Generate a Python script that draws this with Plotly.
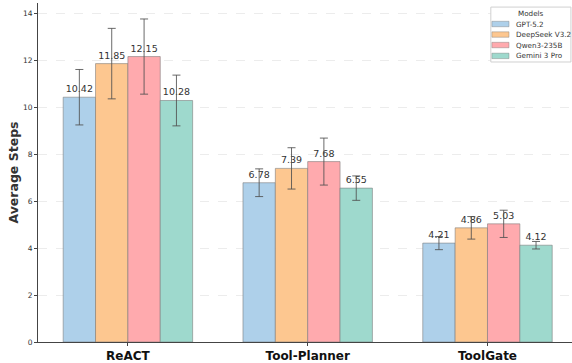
import plotly.graph_objects as go

methods = ["ReACT", "Tool-Planner", "ToolGate"]
models = ["GPT-5.2", "DeepSeek V3.2", "Qwen3-235B", "Gemini 3 Pro"]
values = {
    "GPT-5.2": [10.42, 6.78, 4.21],
    "DeepSeek V3.2": [11.85, 7.39, 4.86],
    "Qwen3-235B": [12.15, 7.68, 5.03],
    "Gemini 3 Pro": [10.28, 6.55, 4.12],
}
errors = {
    "GPT-5.2": [1.18, 0.59, 0.28],
    "DeepSeek V3.2": [1.50, 0.88, 0.48],
    "Qwen3-235B": [1.60, 1.00, 0.58],
    "Gemini 3 Pro": [1.08, 0.52, 0.16],
}
colors = ["rgb(174,208,234)", "rgb(253,199,144)", "rgb(255,170,174)", "rgb(158,217,205)"]

fig = go.Figure()
for m, c in zip(models, colors):
    fig.add_trace(go.Bar(
        name=m, x=methods, y=values[m],
        marker=dict(color=c, line=dict(color="rgba(120,120,120,0.7)", width=0.8)),
        error_y=dict(type="data", array=errors[m], color="rgba(80,80,80,0.85)", thickness=1, width=4),
        text=[f"{v:.2f}" for v in values[m]], textposition="outside",
        textfont=dict(size=9.5, color="#333", family="DejaVu Sans"),
        cliponaxis=False, showlegend=False,
    ))

# legend drawn as a small boxed key (paper coordinates)
lx0, lx1, ly0, ly1 = 0.848, 0.998, 0.826, 0.988
fig.add_shape(type="rect", xref="paper", yref="paper", x0=lx0, x1=lx1, y0=ly0, y1=ly1,
              line=dict(color="#d0d0d0", width=1), fillcolor="white", layer="above")
fig.add_annotation(xref="paper", yref="paper", x=(lx0 + lx1) / 2, y=0.970, text="Models",
                   showarrow=False, font=dict(size=7.2, color="#333"), xanchor="center", yanchor="middle")
row_y = [0.938, 0.907, 0.876, 0.844]
for m, c, yy in zip(models, colors, row_y):
    fig.add_shape(type="rect", xref="paper", yref="paper", x0=0.850, x1=0.882,
                  y0=yy - 0.008, y1=yy + 0.008, fillcolor=c,
                  line=dict(color="rgba(120,120,120,0.7)", width=0.6), layer="above")
    fig.add_annotation(xref="paper", yref="paper", x=0.891, y=yy, text=m, showarrow=False,
                       font=dict(size=7.2, color="#333"), xanchor="left", yanchor="middle")

fig.update_layout(
    width=572, height=363,
    margin=dict(l=38, r=0, t=3, b=21),
    barmode="group", bargap=0.28, bargroupgap=0,
    plot_bgcolor="white", paper_bgcolor="white",
    font=dict(family="DejaVu Sans", color="#333"),
    showlegend=False,
    yaxis=dict(
        range=[0, 14.43], dtick=2, automargin=False,
        showgrid=True, gridcolor="rgba(200,200,200,0.35)", griddash="dash", gridwidth=0.6,
        showline=True, linecolor="#444", linewidth=1,
        ticks="outside", ticklen=3, tickcolor="#444",
        tickfont=dict(size=7.5, color="#333"),
        title=dict(text="<b>Average Steps</b>", font=dict(size=12.5, color="#333"), standoff=1),
        zeroline=False,
    ),
    xaxis=dict(
        range=[-0.5, 2.47], automargin=False,
        showline=True, linecolor="#444", linewidth=1,
        ticks="outside", ticklen=3, tickcolor="#444",
        tickfont=dict(size=12, color="#111"),
        tickvals=methods, ticktext=[f"<b>{t}</b>" for t in methods],
    ),
)
fig.write_html("out.html", config={"displayModeBar": False},
               post_script="document.body.style.margin='0';document.body.style.overflow='hidden';")
